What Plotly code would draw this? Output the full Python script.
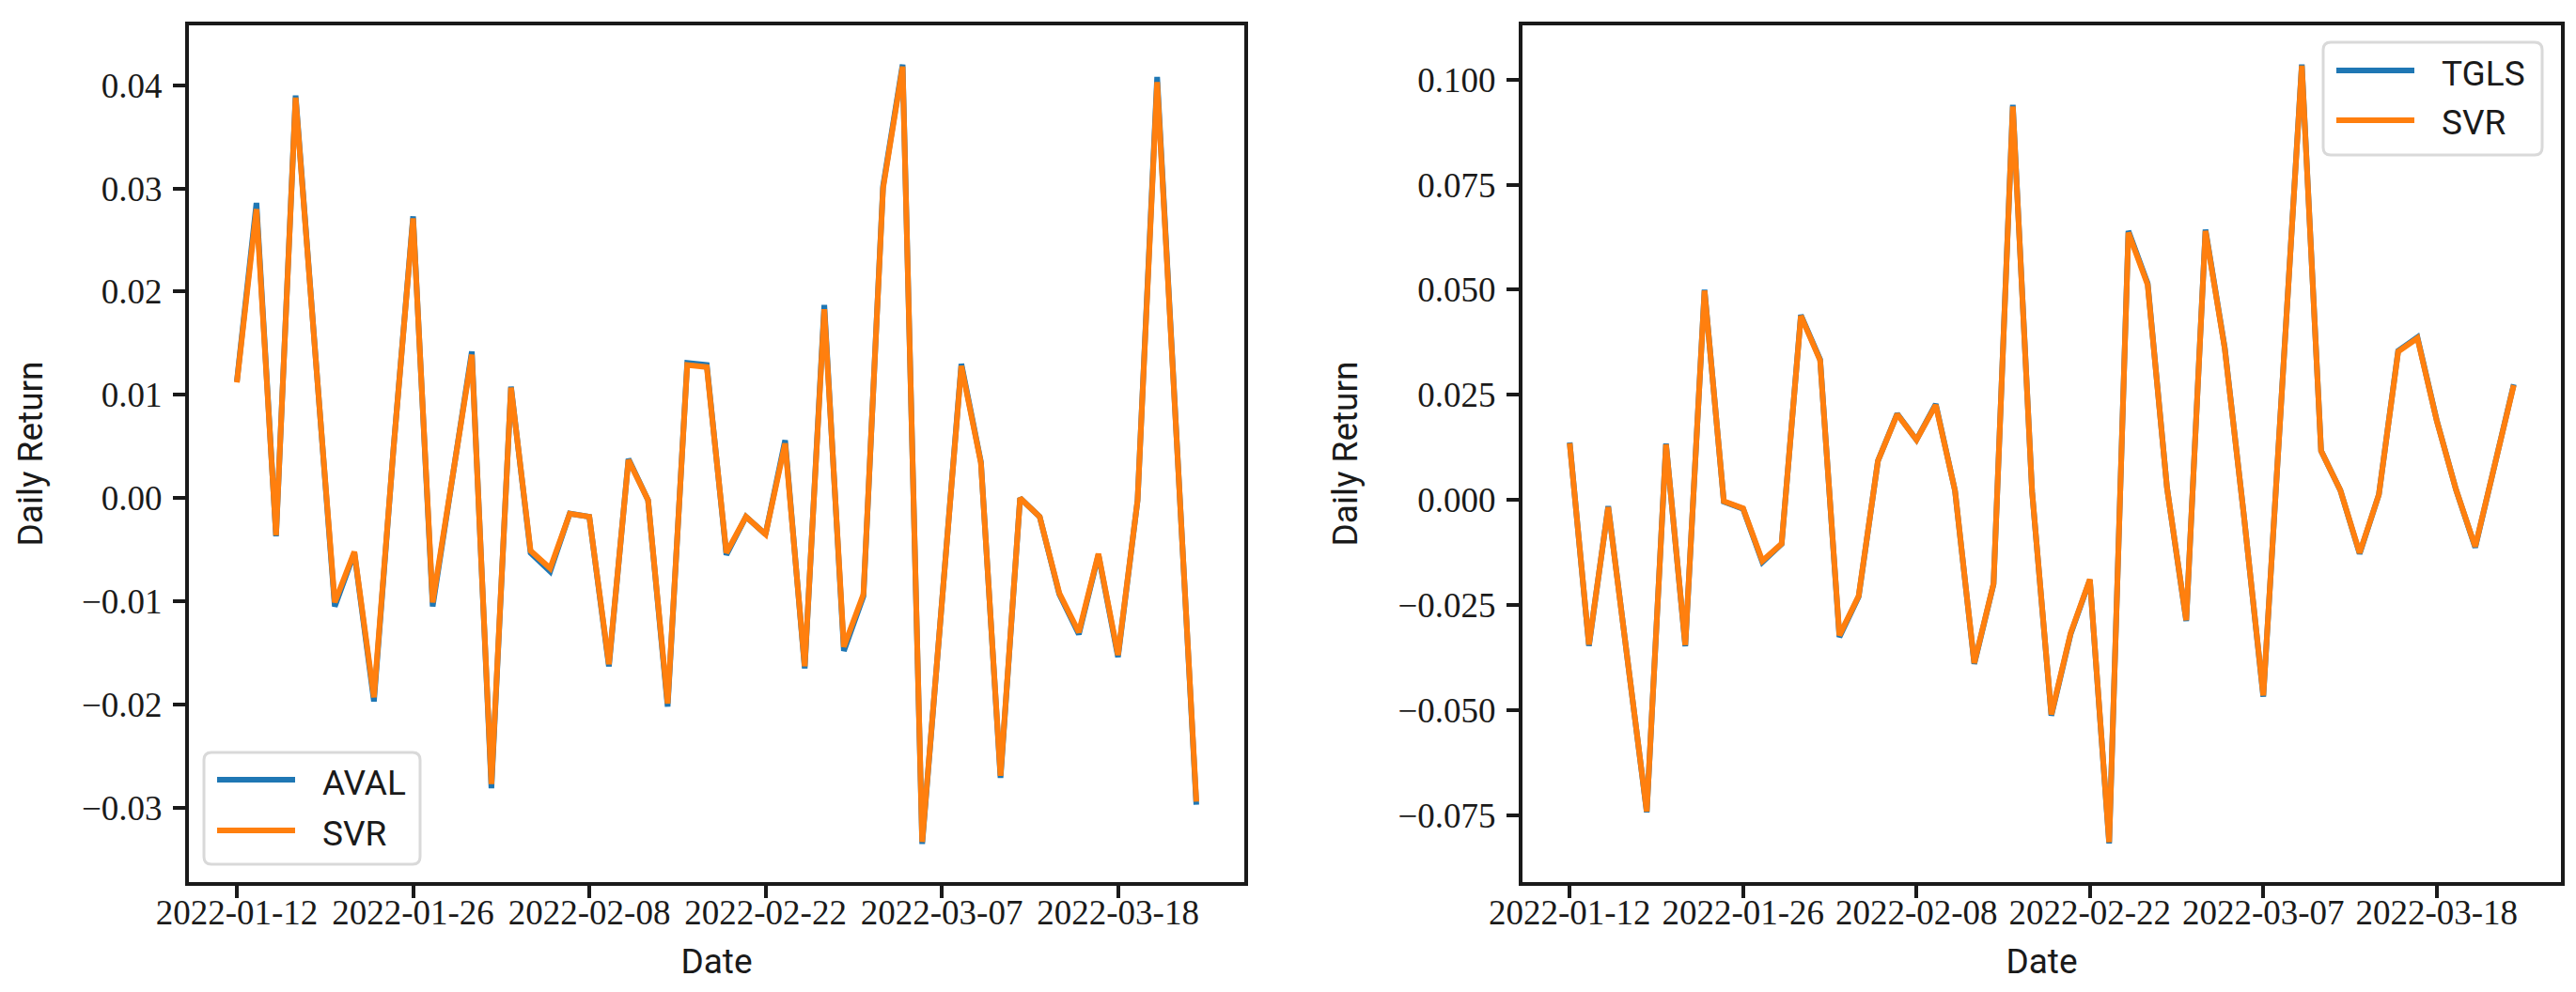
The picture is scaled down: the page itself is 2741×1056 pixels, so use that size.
import plotly.graph_objects as go

# ---------------- data ----------------
dates = [
    "2022-01-12", "2022-01-13", "2022-01-14", "2022-01-18", "2022-01-19", "2022-01-20",
    "2022-01-21", "2022-01-24", "2022-01-25", "2022-01-26", "2022-01-27", "2022-01-28",
    "2022-01-31", "2022-02-01", "2022-02-02", "2022-02-03", "2022-02-04", "2022-02-07",
    "2022-02-08", "2022-02-09", "2022-02-10", "2022-02-11", "2022-02-14", "2022-02-15",
    "2022-02-16", "2022-02-17", "2022-02-18", "2022-02-22", "2022-02-23", "2022-02-24",
    "2022-02-25", "2022-02-28", "2022-03-01", "2022-03-02", "2022-03-03", "2022-03-04",
    "2022-03-07", "2022-03-08", "2022-03-09", "2022-03-10", "2022-03-11", "2022-03-14",
    "2022-03-15", "2022-03-16", "2022-03-17", "2022-03-18", "2022-03-21", "2022-03-22",
    "2022-03-23", "2022-03-24",
]

aval = [
    0.0113, 0.0286, -0.0037, 0.0390, 0.0142, -0.0105, -0.0053, -0.0197, 0.0048, 0.0273,
    -0.0105, 0.0019, 0.0142, -0.0281, 0.0108, -0.0053, -0.0071, -0.0015, -0.0018, -0.0163,
    0.0038, -0.0002, -0.0202, 0.0131, 0.0129, -0.0055, -0.0018, -0.0035, 0.0056, -0.0165,
    0.0187, -0.0148, -0.0095, 0.0302, 0.0420, -0.0335, -0.0108, 0.0130, 0.0035, -0.0271,
    0.0000, -0.0018, -0.0093, -0.0132, -0.0055, -0.0154, -0.0002, 0.0408, 0.0056, -0.0297,
]
svr_aval = [
    0.0112, 0.0280, -0.0036, 0.0388, 0.0141, -0.0101, -0.0052, -0.0193, 0.0048, 0.0271,
    -0.0101, 0.0019, 0.0139, -0.0277, 0.0107, -0.0051, -0.0068, -0.0015, -0.0018, -0.0161,
    0.0037, -0.0002, -0.0199, 0.0129, 0.0127, -0.0053, -0.0018, -0.0035, 0.0053, -0.0163,
    0.0183, -0.0144, -0.0093, 0.0300, 0.0418, -0.0333, -0.0107, 0.0128, 0.0034, -0.0269,
    0.0000, -0.0018, -0.0092, -0.0130, -0.0054, -0.0152, -0.0002, 0.0403, 0.0055, -0.0294,
]

tgls = [
    0.0137, -0.0347, -0.0015, -0.0380, -0.0743, 0.0134, -0.0348, 0.0500, -0.0004, -0.0021,
    -0.0148, -0.0105, 0.0440, 0.0334, -0.0326, -0.0230, 0.0093, 0.0205, 0.0143, 0.0228,
    0.0022, -0.0390, -0.0200, 0.0940, 0.0020, -0.0513, -0.0319, -0.0190, -0.0817, 0.0640,
    0.0515, 0.0030, -0.0288, 0.0643, 0.0362, -0.0040, -0.0468, 0.0285, 0.1036, 0.0117,
    0.0023, -0.0128, 0.0013, 0.0355, 0.0387, 0.0190, 0.0025, -0.0113, 0.0080, 0.0275,
]
svr_tgls = [
    0.0135, -0.0344, -0.0017, -0.0378, -0.0741, 0.0132, -0.0345, 0.0498, -0.0003, -0.0020,
    -0.0145, -0.0104, 0.0438, 0.0332, -0.0322, -0.0228, 0.0093, 0.0204, 0.0143, 0.0226,
    0.0022, -0.0388, -0.0199, 0.0936, 0.0020, -0.0510, -0.0317, -0.0189, -0.0814, 0.0636,
    0.0512, 0.0030, -0.0286, 0.0640, 0.0360, -0.0040, -0.0465, 0.0284, 0.1033, 0.0117,
    0.0023, -0.0126, 0.0013, 0.0353, 0.0385, 0.0189, 0.0025, -0.0111, 0.0080, 0.0273,
]

x_tick_dates = ["2022-01-12", "2022-01-26", "2022-02-08", "2022-02-22", "2022-03-07", "2022-03-18"]
left_yticks = [-0.03, -0.02, -0.01, 0.00, 0.01, 0.02, 0.03, 0.04]
right_yticks = [-0.075, -0.050, -0.025, 0.000, 0.025, 0.050, 0.075, 0.100]
left_names = ["AVAL", "SVR"]
right_names = ["TGLS", "SVR"]

# ---------------- styling ----------------
W, H = 2741, 1056
BLUE = "#1f77b4"
ORANGE = "#ff7f0e"
INK = "#1a1a1a"
SERIF = "Liberation Serif, DejaVu Serif, serif"
SANS = "Roboto, Liberation Sans, sans-serif"
FS = 37
LW = 6


def px(x):
    return x / W


def py(y):
    return 1 - y / H


fig = go.Figure()
fig.add_trace(go.Scatter(x=dates, y=aval, mode="lines", name=left_names[0],
                         line=dict(color=BLUE, width=LW), xaxis="x", yaxis="y"))
fig.add_trace(go.Scatter(x=dates, y=svr_aval, mode="lines", name=left_names[1],
                         line=dict(color=ORANGE, width=LW), xaxis="x", yaxis="y"))
fig.add_trace(go.Scatter(x=dates, y=tgls, mode="lines", name=right_names[0],
                         line=dict(color=BLUE, width=LW), xaxis="x2", yaxis="y2"))
fig.add_trace(go.Scatter(x=dates, y=svr_tgls, mode="lines", name=right_names[1],
                         line=dict(color=ORANGE, width=LW), xaxis="x2", yaxis="y2"))

n = len(dates)
pad = 0.05 * (n - 1)
ydom = [py(931), py(19)]

common_axis = dict(
    showline=True, linecolor=INK, linewidth=4, mirror=True,
    ticks="outside", ticklen=13, tickwidth=3.5, tickcolor=INK,
    showgrid=False, zeroline=False,
    tickfont=dict(family=SERIF, size=FS, color=INK),
)

xcommon = dict(
    type="category", range=[-pad, n - 1 + pad], tickmode="array",
    tickvals=x_tick_dates, ticktext=x_tick_dates, ticklabelstandoff=-16,
    title=dict(text="Date", font=dict(family=SANS, size=FS, color=INK), standoff=20),
    **common_axis,
)

fig.update_layout(
    template="none",
    width=W, height=H,
    margin=dict(l=0, r=0, t=0, b=0, autoexpand=False),
    paper_bgcolor="white", plot_bgcolor="white",
    showlegend=False,
    xaxis=dict(domain=[px(193), px(1316)], anchor="y", **xcommon),
    xaxis2=dict(domain=[px(1612), px(2717)], anchor="y2", **xcommon),
    yaxis=dict(domain=ydom, anchor="x", range=[-0.0372, 0.0458], tickmode="array",
               tickvals=left_yticks, tickformat=".2f", ticklabelstandoff=4,
               title=dict(text="Daily Return", font=dict(family=SANS, size=FS, color=INK), standoff=31),
               **common_axis),
    yaxis2=dict(domain=ydom, anchor="x2", range=[-0.0909, 0.1129], tickmode="array",
                tickvals=right_yticks, tickformat=".3f", ticklabelstandoff=4,
                title=dict(text="Daily Return", font=dict(family=SANS, size=FS, color=INK), standoff=33),
                **common_axis),
)


# ---------------- legends (matplotlib-style, rounded frames) ----------------
def rounded_rect(x0, y0, x1, y1, r):
    rx, ry = r / W, r / H
    X0, X1, Y0, Y1 = px(x0), px(x1), py(y0), py(y1)
    return (f"M {X0+rx},{Y0} L {X1-rx},{Y0} Q {X1},{Y0} {X1},{Y0-ry} "
            f"L {X1},{Y1+ry} Q {X1},{Y1} {X1-rx},{Y1} L {X0+rx},{Y1} "
            f"Q {X0},{Y1} {X0},{Y1+ry} L {X0},{Y0-ry} Q {X0},{Y0} {X0+rx},{Y0} Z")


def add_legend(box, line_x, ys, text_x, names):
    fig.add_shape(type="path", path=rounded_rect(*box, 8), xref="paper", yref="paper",
                  line=dict(color="#d9d9d9", width=3), fillcolor="rgba(255,255,255,0.8)")
    for yy, col, name in zip(ys, [BLUE, ORANGE], names):
        fig.add_shape(type="line", xref="paper", yref="paper",
                      x0=px(line_x[0]), x1=px(line_x[1]), y0=py(yy), y1=py(yy),
                      line=dict(color=col, width=LW))
        fig.add_annotation(x=px(text_x), y=py(yy + 3), xref="paper", yref="paper",
                           text=name, showarrow=False, xanchor="left", yanchor="middle",
                           font=dict(family=SANS, size=FS, color=INK))


add_legend((209, 793, 439, 912), (223, 306), (822, 876), 333, left_names)
add_legend((2464, 37, 2697, 157), (2478, 2561), (67, 120), 2588, right_names)

fig.write_html("out.html")
